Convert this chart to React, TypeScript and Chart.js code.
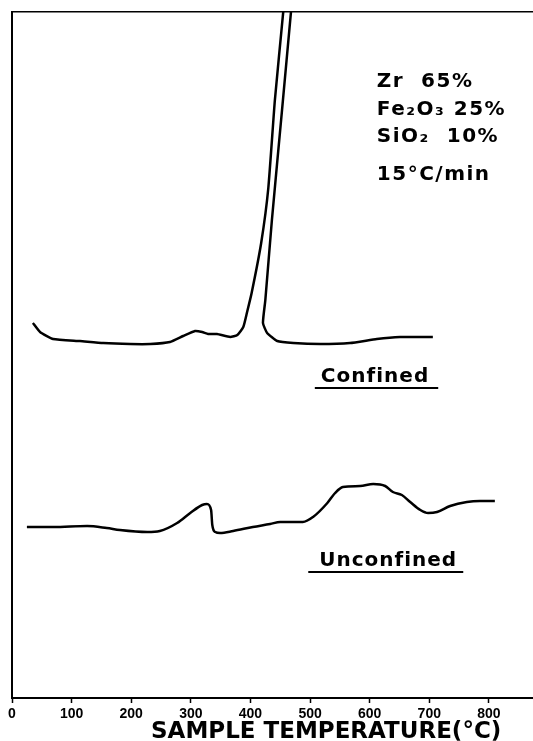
import React, { useEffect, useRef } from 'react';
import { Chart, registerables } from 'chart.js';

Chart.register(...registerables);

// Temperature axis (°C)
const xMin = 0;
const xMax = 874;
const xStep = 100;
// Arbitrary DTA signal axis
const yMin = 0;
const yMax = 686;

// Confined run (curve loops off-scale at the ignition exotherm)
const confinedTemp = [35, 47, 69, 114, 153, 198, 232, 265, 287, 307, 319, 329, 344, 366, 378, 388, 394, 402, 418, 430, 441, 455, 460, 473, 468, 453, 436, 425, 421, 428, 445, 472, 517, 567, 612, 651, 706];
const confinedSignal = [375, 366, 359, 357, 355, 354, 354, 356, 362, 367, 366, 364, 364, 361, 363, 371, 385, 405, 455, 510, 598, 686, 718, 718, 686, 588, 478, 398, 375, 365, 357, 355, 354, 355, 359, 361, 361];

// Unconfined run
const unconfinedTemp = [25, 69, 126, 159, 181, 227, 248, 277, 299, 319, 327, 334, 336, 341, 349, 371, 404, 433, 450, 488, 505, 529, 542, 555, 584, 606, 626, 639, 654, 668, 685, 698, 713, 735, 763, 785, 810];
const unconfinedSignal = [171, 171, 172, 170, 168, 166, 167, 175, 185, 193, 194, 188, 173, 166, 165, 167, 171, 174, 176, 176, 181, 195, 205, 211, 212, 214, 212, 206, 203, 196, 188, 185, 186, 192, 196, 197, 197];

// Text
const compositionLines = ['Zr  65%', 'Fe₂O₃ 25%', 'SiO₂  10%', '15°C/min'];
const compositionBaselines = [611, 583, 556, 518];
const compositionLeftTemp = 612;
const seriesNames = ['Confined', 'Unconfined'];
const seriesLabelCenterTemp = [609, 631];
const seriesLabelBaseline = [316, 132];
const underlineFromTemp = [508, 497];
const underlineToTemp = [715, 757];
const underlineLevel = [310, 126];
const axisTitle = 'SAMPLE TEMPERATURE(°C)';
const axisTitleCenterTemp = 527;

const toPoints = (xs: number[], ys: number[]) => xs.map((x, i) => ({ x, y: ys[i] }));

const textPlugin = {
  id: 'dtaTexts',
  afterDraw(chart: any) {
    const { ctx, chartArea } = chart;
    const x = chart.scales.x;
    const y = chart.scales.y;
    ctx.save();
    ctx.fillStyle = '#000';
    ctx.strokeStyle = '#000';
    ctx.textBaseline = 'alphabetic';

    // composition block
    ctx.font = 'bold 20px "DejaVu Sans"';
    (ctx as any).letterSpacing = '1.5px';
    ctx.textAlign = 'left';
    const bx = x.getPixelForValue(compositionLeftTemp);
    compositionLines.forEach((t, i) => {
      ctx.fillText(t, bx, y.getPixelForValue(compositionBaselines[i]));
    });

    // series labels with underline
    ctx.font = 'bold 20px "DejaVu Sans"';
    (ctx as any).letterSpacing = '1px';
    ctx.textAlign = 'center';
    ctx.lineWidth = 2;
    seriesNames.forEach((name, i) => {
      ctx.fillText(name, x.getPixelForValue(seriesLabelCenterTemp[i]), y.getPixelForValue(seriesLabelBaseline[i]));
      const ly = y.getPixelForValue(underlineLevel[i]);
      ctx.beginPath();
      ctx.moveTo(x.getPixelForValue(underlineFromTemp[i]), ly);
      ctx.lineTo(x.getPixelForValue(underlineToTemp[i]), ly);
      ctx.stroke();
    });

    // axis title
    ctx.font = 'bold 23px "DejaVu Sans"';
    (ctx as any).letterSpacing = '0px';
    ctx.textAlign = 'center';
    ctx.fillText(axisTitle, x.getPixelForValue(axisTitleCenterTemp), chartArea.bottom + 40);
    ctx.restore();
  },
};

export default function App() {
  const canvasRef = useRef<HTMLCanvasElement | null>(null);

  useEffect(() => {
    document.body.style.margin = '0';
    const canvas = canvasRef.current;
    if (!canvas) return;
    const chart = new Chart(canvas, {
      type: 'line',
      data: {
        datasets: [
          {
            label: seriesNames[0],
            data: toPoints(confinedTemp, confinedSignal),
            borderColor: '#000',
            borderWidth: 2.5,
            pointRadius: 0,
            tension: 0.15,
            fill: false,
          },
          {
            label: seriesNames[1],
            data: toPoints(unconfinedTemp, unconfinedSignal),
            borderColor: '#000',
            borderWidth: 2.5,
            pointRadius: 0,
            cubicInterpolationMode: 'monotone',
            fill: false,
          },
        ],
      },
      options: {
        responsive: false,
        animation: false,
        devicePixelRatio: 1,
        layout: { padding: { left: 12, top: 12, right: 0, bottom: 0 } },
        plugins: {
          legend: { display: false },
          tooltip: { enabled: false },
          title: { display: false },
        },
        scales: {
          x: {
            type: 'linear',
            position: 'bottom',
            min: xMin,
            max: xMax,
            afterFit: (scale: any) => {
              scale.height = 43;
            },
            ticks: {
              stepSize: xStep,
              includeBounds: false,
              maxRotation: 0,
              autoSkip: false,
              padding: 3,
              color: '#000',
              font: { family: '"Liberation Sans"', size: 14, weight: 'bold' },
              callback: (v: any) => (Number(v) % 100 === 0 ? String(v) : ''),
            },
            grid: {
              drawOnChartArea: false,
              drawTicks: true,
              tickLength: 5,
              tickWidth: 1.5,
              tickColor: '#000',
            },
            border: { display: true, color: '#000', width: 2 },
          },
          x2: {
            type: 'linear',
            position: 'top',
            min: xMin,
            max: xMax,
            ticks: { display: false },
            grid: { drawOnChartArea: false, drawTicks: false },
            border: { display: true, color: '#000', width: 1.5 },
          },
          y: {
            type: 'linear',
            position: 'left',
            min: yMin,
            max: yMax,
            ticks: { display: false },
            grid: { drawOnChartArea: false, drawTicks: false },
            border: { display: true, color: '#000', width: 2, dash: [6, 2] },
          },
        },
      },
      plugins: [textPlugin],
    } as any);
    return () => chart.destroy();
  }, []);

  return (
    <div style={{ position: 'absolute', left: 0, top: 0, width: 533, height: 741 }}>
      <canvas ref={canvasRef} width={533} height={741} style={{ display: 'block' }} />
    </div>
  );
}
